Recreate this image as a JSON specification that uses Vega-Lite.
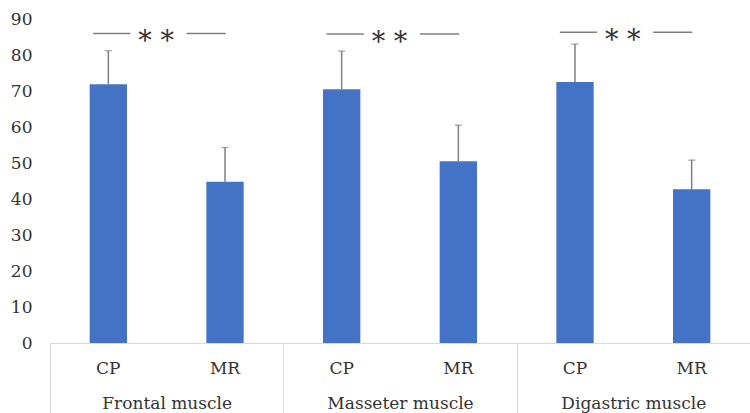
{
  "$schema": "https://vega.github.io/schema/vega-lite/v6.json",
  "width": 700,
  "height": 324,
  "autosize": {"type": "none"},
  "padding": {"left": 50, "top": 19, "right": 0, "bottom": 70},
  "background": "white",
  "config": {
    "view": {"stroke": null},
    "font": "DejaVu Serif",
    "axis": {"labelFont": "DejaVu Serif", "labelColor": "#333333", "grid": false, "labelFontSize": 17, "labelOverlap": false},
    "axisY": {"ticks": false, "domain": false, "labelPadding": 18, "tickCount": 10, "title": null}
  },
  "datasets": {
    "bars": [
      {"key": "Frontal muscle|CP", "muscle": "Frontal muscle", "group": "CP", "mean": 71.9, "upper": 81.2},
      {"key": "Frontal muscle|MR", "muscle": "Frontal muscle", "group": "MR", "mean": 44.8, "upper": 54.3},
      {"key": "Masseter muscle|CP", "muscle": "Masseter muscle", "group": "CP", "mean": 70.5, "upper": 81.1},
      {"key": "Masseter muscle|MR", "muscle": "Masseter muscle", "group": "MR", "mean": 50.5, "upper": 60.5},
      {"key": "Digastric muscle|CP", "muscle": "Digastric muscle", "group": "CP", "mean": 72.5, "upper": 83.0},
      {"key": "Digastric muscle|MR", "muscle": "Digastric muscle", "group": "MR", "mean": 42.7, "upper": 50.8}
    ],
    "sig": [
      {"muscle": "Frontal muscle", "y": 86.0, "label": "* *"},
      {"muscle": "Masseter muscle", "y": 85.8, "label": "* *"},
      {"muscle": "Digastric muscle", "y": 86.3, "label": "* *"}
    ]
  },
  "layer": [
    {
      "data": {"name": "bars"},
      "encoding": {
        "x": {
          "field": "key", "type": "nominal", "sort": null,
          "scale": {"type": "band", "paddingInner": 0, "paddingOuter": 0},
          "axis": {"title": null, "labelExpr": "split(datum.label, '|')[1]", "labelAngle": 0, "ticks": false, "domainColor": "#d9d9d9", "domainWidth": 1, "labelPadding": 17}
        }
      },
      "layer": [
        {
          "mark": {"type": "bar", "color": "#4472C4", "width": {"band": 0.32}},
          "encoding": {
            "y": {"field": "mean", "type": "quantitative", "scale": {"domain": [0, 90], "nice": false},
              "axis": {"title": null, "values": [0, 10, 20, 30, 40, 50, 60, 70, 80, 90]}}
          }
        },
        {
          "mark": {"type": "rule", "color": "#7f7f7f", "strokeWidth": 1.5},
          "encoding": {
            "y": {"field": "mean", "type": "quantitative", "axis": {"title": null, "values": [0, 10, 20, 30, 40, 50, 60, 70, 80, 90]}},
            "y2": {"field": "upper"}
          }
        },
        {
          "mark": {"type": "tick", "color": "#7f7f7f", "size": 7, "thickness": 1.3},
          "encoding": {
            "y": {"field": "upper", "type": "quantitative", "axis": {"title": null, "values": [0, 10, 20, 30, 40, 50, 60, 70, 80, 90]}}
          }
        }
      ]
    },
    {
      "data": {"name": "sig"},
      "encoding": {
        "x": {
          "field": "muscle", "type": "nominal", "sort": null,
          "scale": {"type": "band", "paddingInner": 0, "paddingOuter": 0},
          "axis": {"title": null, "orient": "bottom", "labelAngle": 0, "domain": false, "tickBand": "extent", "tickSize": 70, "tickColor": "#d9d9d9", "tickWidth": 1, "labelPadding": -18}
        },
        "y": {"field": "y", "type": "quantitative", "axis": {"title": null, "values": [0, 10, 20, 30, 40, 50, 60, 70, 80, 90]}}
      },
      "layer": [
        {
          "mark": {"type": "rule", "color": "#7f7f7f", "strokeWidth": 1.5},
          "encoding": {
            "x": {"field": "muscle", "type": "nominal", "sort": null, "bandPosition": 0.185},
            "x2": {"field": "muscle", "bandPosition": 0.345}
          }
        },
        {
          "mark": {"type": "rule", "color": "#7f7f7f", "strokeWidth": 1.5},
          "encoding": {
            "x": {"field": "muscle", "type": "nominal", "sort": null, "bandPosition": 0.585},
            "x2": {"field": "muscle", "bandPosition": 0.753}
          }
        },
        {
          "mark": {"type": "text", "color": "#333333", "fontSize": 27, "baseline": "alphabetic", "dy": 17, "font": "DejaVu Serif"},
          "encoding": {
            "x": {"field": "muscle", "type": "nominal", "sort": null, "bandPosition": 0.455},
            "text": {"field": "label"}
          }
        }
      ]
    }
  ],
  "resolve": {"scale": {"x": "independent"}, "axis": {"x": "independent"}}
}
